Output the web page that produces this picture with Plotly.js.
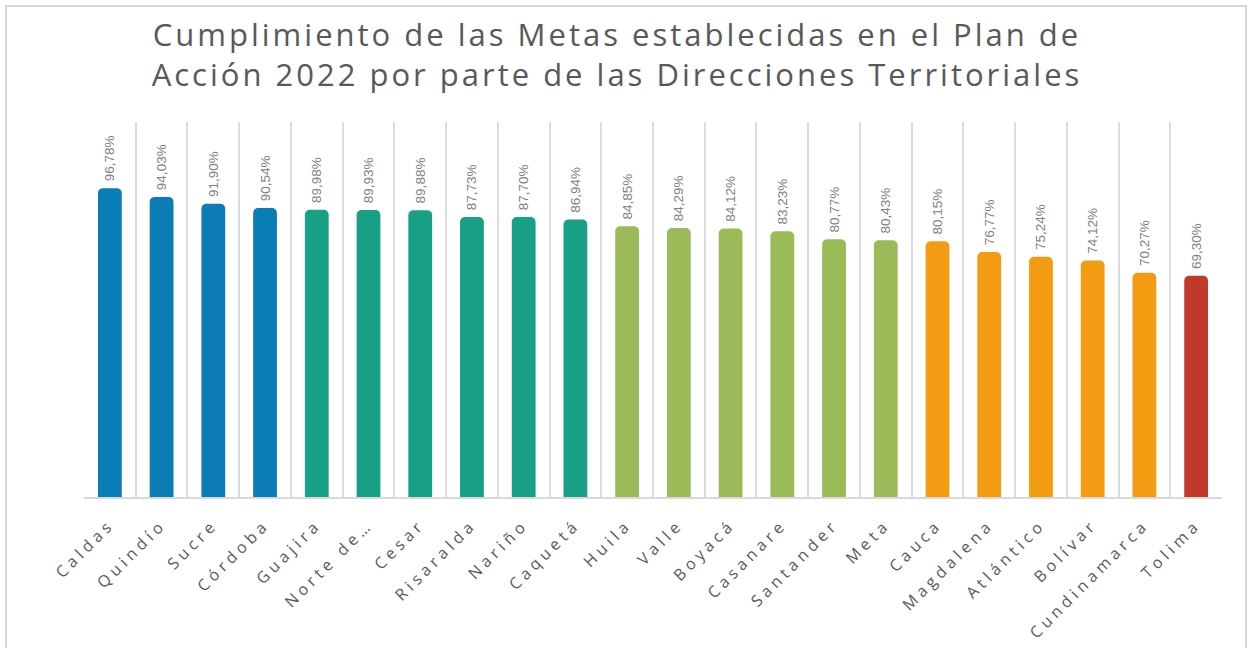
<!DOCTYPE html>
<html>
<head>
<meta charset="utf-8">
<script src="https://cdn.plot.ly/plotly-3.0.1.min.js"></script>
<style>
  html, body { margin: 0; padding: 0; background: #ffffff; }
  #wrap { position: relative; width: 1249px; height: 648px; overflow: hidden; }
  #chart { position: absolute; left: 0; top: 0; width: 1249px; height: 648px; }
  #frame { position: absolute; left: 5px; top: 5px; width: 1238px; height: 660px; border: 2px solid #d9d9d9; pointer-events: none; }
  .gtitle { letter-spacing: 3px; }
  .xtick text { letter-spacing: 4.3px; }
</style>
</head>
<body>
<div id="wrap">
  <div id="chart"></div>
  <div id="frame"></div>
</div>
<script>
const categories = ["Caldas", "Quindío", "Sucre", "Córdoba", "Guajira", "Norte de…", "Cesar", "Risaralda", "Nariño", "Caquetá", "Huila", "Valle", "Boyacá", "Casanare", "Santander", "Meta", "Cauca", "Magdalena", "Atlántico", "Bolívar", "Cundinamarca", "Tolima"];
const values = [96.78, 94.03, 91.90, 90.54, 89.98, 89.93, 89.88, 87.73, 87.70, 86.94, 84.85, 84.29, 84.12, 83.23, 80.77, 80.43, 80.15, 76.77, 75.24, 74.12, 70.27, 69.30];
const groups = ["blue", "blue", "blue", "blue", "teal", "teal", "teal", "teal", "teal", "teal", "green", "green", "green", "green", "green", "green", "orange", "orange", "orange", "orange", "orange", "red"];
const palette = { blue: "#0B7DB6", teal: "#17A085", green: "#9BBB59", orange: "#F39C12", red: "#C0392B" };
const titleText = "Cumplimiento de las Metas establecidas en el Plan de<br>Acción 2022 por parte de las Direcciones Territoriales";

const trace = {
  type: "bar",
  x: categories,
  y: values,
  marker: { color: groups.map(g => palette[g]), cornerradius: 5 },
  texttemplate: "\u00a0%{y:.2f}%",
  textposition: "outside",
  textangle: -90,
  constraintext: "none",
  outsidetextfont: { family: "Liberation Sans, Arial, sans-serif", size: 13.5, color: "#808080" },
  cliponaxis: false,
  hoverinfo: "x+y"
};

const layout = {
  width: 1249,
  height: 648,
  margin: { l: 84, r: 27, t: 122, b: 151 },
  paper_bgcolor: "#ffffff",
  plot_bgcolor: "#ffffff",
  separators: ",.",
  bargap: 0.54,
  showlegend: false,
  title: {
    text: titleText,
    font: { family: "Open Sans, sans-serif", size: 31, color: "#595959" },
    x: 0.494,
    xanchor: "center",
    y: 1 - 46 / 648,
    yref: "container",
    yanchor: "middle"
  },
  xaxis: {
    type: "category",
    tickson: "boundaries",
    showgrid: true,
    gridcolor: "#dcdcdc",
    gridwidth: 2,
    showline: true,
    linecolor: "#d9d9d9",
    linewidth: 2,
    ticks: "",
    ticklabelstandoff: 10,
    tickangle: -45,
    tickfont: { family: "Open Sans, sans-serif", size: 16, color: "#595959" },
    fixedrange: true
  },
  yaxis: {
    range: [0, 117.5],
    visible: false,
    showgrid: false,
    zeroline: false,
    fixedrange: true
  }
};

Plotly.newPlot("chart", [trace], layout, { displayModeBar: false, staticPlot: true });
</script>
</body>
</html>
